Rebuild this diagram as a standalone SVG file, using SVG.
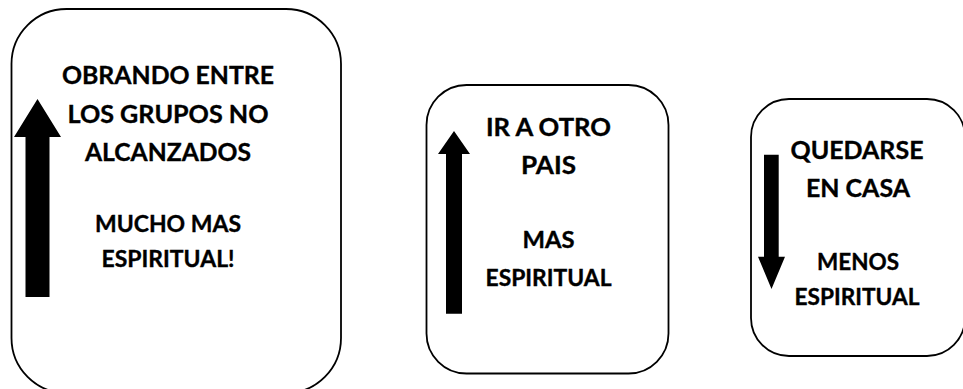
<svg xmlns="http://www.w3.org/2000/svg" width="963" height="389" viewBox="0 0 963 389">
<style>
.box{fill:#fff;stroke:#000;stroke-width:1.8}
.arrow{fill:#000}
text{font-family:"Lato","Carlito","Liberation Sans",sans-serif;font-weight:700;fill:#000;stroke:#000;stroke-width:.35;text-anchor:middle}
.lg{font-size:25px}
.sm{font-size:22.5px}
</style>
<rect width="963" height="389" fill="#fff"/>
<g id="node-alcanzados">
<rect class="box" x="11.5" y="9" width="329.5" height="384" rx="55" ry="55"/>
<text class="lg" x="168" y="83.5" textLength="212" lengthAdjust="spacingAndGlyphs">OBRANDO ENTRE</text>
<text class="lg" x="168" y="123" textLength="201" lengthAdjust="spacingAndGlyphs">LOS GRUPOS NO</text>
<text class="lg" x="168" y="161" textLength="166" lengthAdjust="spacingAndGlyphs">ALCANZADOS</text>
<text class="sm" x="168" y="232" textLength="146" lengthAdjust="spacingAndGlyphs">MUCHO MAS</text>
<text class="sm" x="168" y="267" textLength="133" lengthAdjust="spacingAndGlyphs">ESPIRITUAL!</text>
</g>
<g id="node-otro-pais">
<rect class="box" x="426.5" y="85" width="242" height="288.5" rx="40" ry="40"/>
<text class="lg" x="548.5" y="135.7" textLength="125" lengthAdjust="spacingAndGlyphs">IR A OTRO</text>
<text class="lg" x="548.5" y="174" textLength="55" lengthAdjust="spacingAndGlyphs">PAIS</text>
<text class="sm" x="548.5" y="248" textLength="52" lengthAdjust="spacingAndGlyphs">MAS</text>
<text class="sm" x="548.5" y="285.7" textLength="126" lengthAdjust="spacingAndGlyphs">ESPIRITUAL</text>
</g>
<g id="node-casa">
<rect class="box" x="751" y="99" width="214" height="257" rx="38" ry="38"/>
<text class="lg" x="857" y="159" textLength="133" lengthAdjust="spacingAndGlyphs">QUEDARSE</text>
<text class="lg" x="858" y="197" textLength="104" lengthAdjust="spacingAndGlyphs">EN CASA</text>
<text class="sm" x="858" y="270" textLength="82" lengthAdjust="spacingAndGlyphs">MENOS</text>
<text class="sm" x="857" y="305" textLength="125" lengthAdjust="spacingAndGlyphs">ESPIRITUAL</text>
</g>
<g id="connectors">
<polygon class="arrow" points="37.5,99 61,137 49.5,137 49.5,297 25.5,297 25.5,137 14,137"/>
<polygon class="arrow" points="454,131 470,154 462,154 462,313.7 446,313.7 446,154 438,154"/>
<polygon class="arrow" points="764,154.7 778.7,154.7 778.7,256.7 785,256.7 771.5,289 758,256.7 764,256.7"/>
</g>
</svg>
